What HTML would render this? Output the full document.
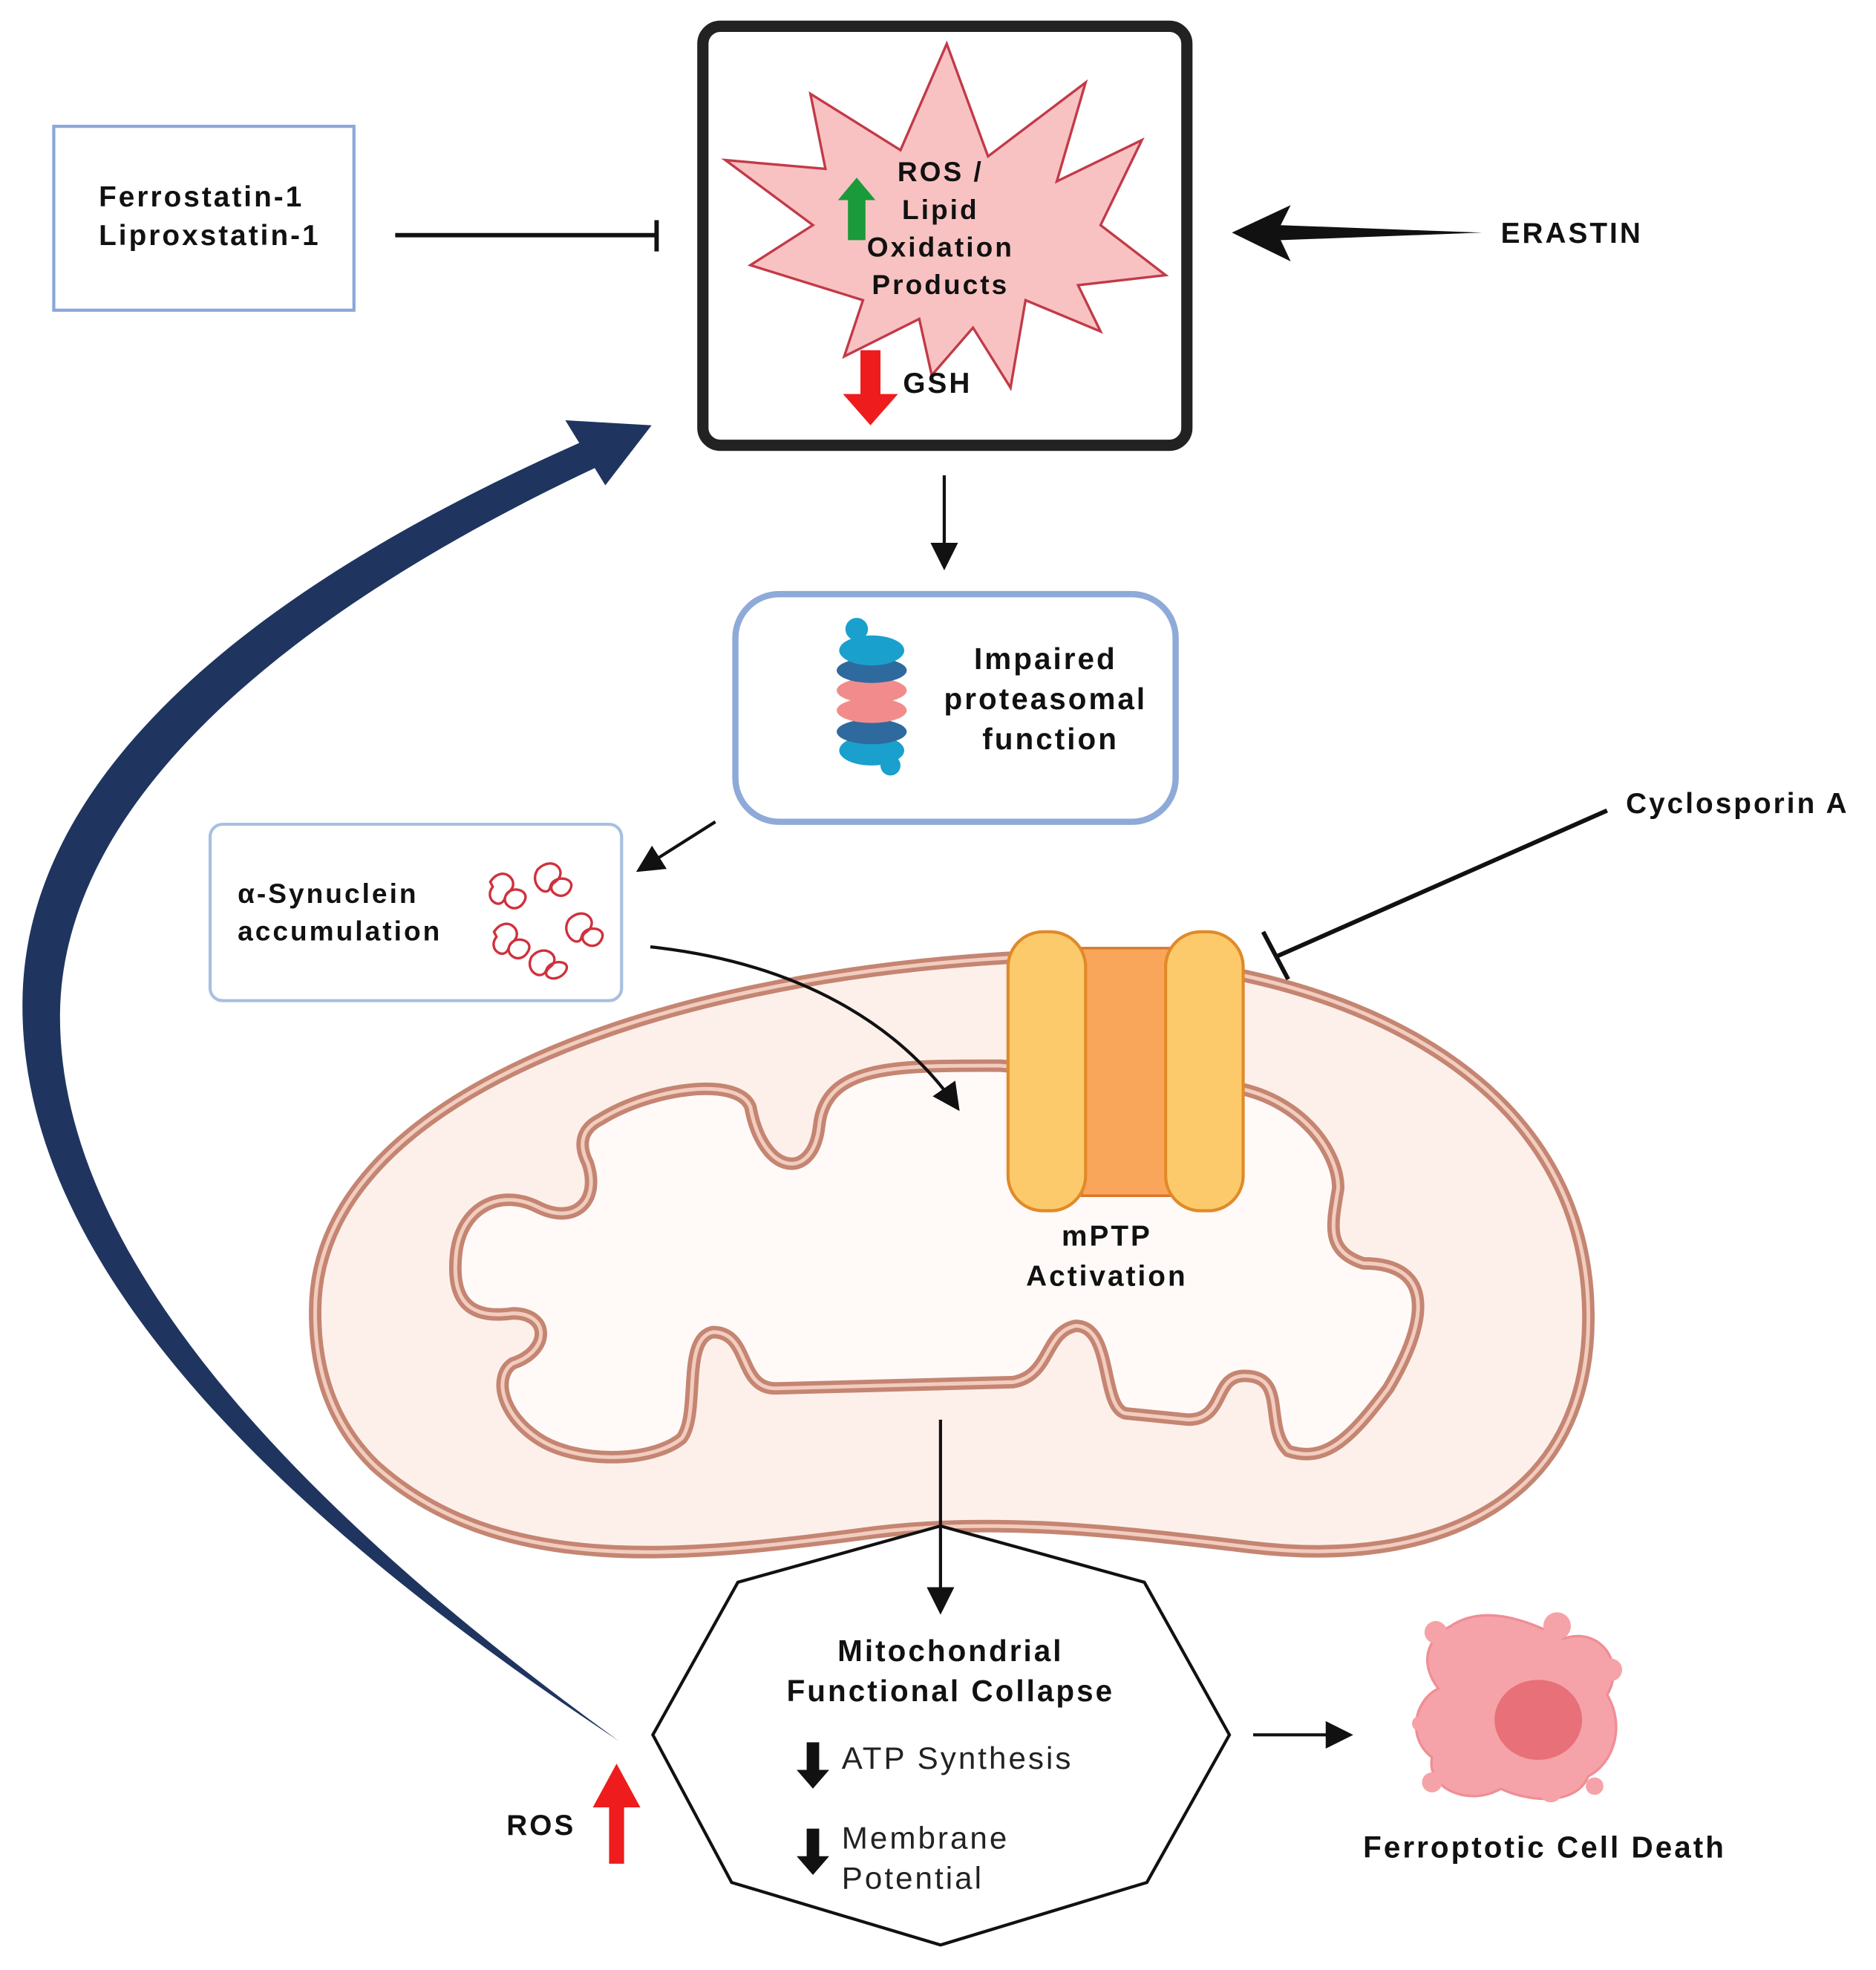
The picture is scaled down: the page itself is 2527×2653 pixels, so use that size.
<!DOCTYPE html>
<html><head><meta charset="utf-8"><style>
html,body{margin:0;padding:0;background:#fff;}
svg{display:block;}
text{font-family:"Liberation Sans",Arial,sans-serif;letter-spacing:1.8px;}
</style></head><body>
<svg width="2527" height="2653" viewBox="0 0 1500 1575" preserveAspectRatio="none" xmlns="http://www.w3.org/2000/svg">
<defs>
<marker id="ah2" markerWidth="22" markerHeight="22" refX="18" refY="11" orient="auto" markerUnits="userSpaceOnUse" viewBox="0 0 22 22"><path d="M0,0 L22,11 L0,22 Z" fill="#111"/></marker>
</defs>

<path d="M495 1392 C220 1210 15 1010 18 800 C20 620 200 470 468 352 L476 374 C230 490 50 640 48 810 C46 1000 230 1200 495 1392 Z" fill="#1f3560"/>
<polygon points="521,340 452,336 484,388" fill="#1f3560"/>

<rect x="43" y="101" width="240" height="147" fill="#fff" stroke="#8aa8d8" stroke-width="2.5"/>
<text x="79" y="165" font-size="23" font-weight="bold" fill="#111">Ferrostatin-1</text>
<text x="79" y="196" font-size="23" font-weight="bold" fill="#111">Liproxstatin-1</text>
<line x1="316" y1="188" x2="525" y2="188" stroke="#111" stroke-width="3.5"/>
<line x1="525" y1="176" x2="525" y2="201" stroke="#111" stroke-width="3.5"/>

<rect x="562" y="21" width="387" height="335" rx="14" fill="#fff" stroke="#222" stroke-width="9"/>
<polygon points="757,35 790,125 868,66 845,145 913,112 880,180 932,220 862,228 880,265 820,240 808,310 778,262 745,300 735,255 675,285 690,240 600,212 650,180 580,128 660,135 648,75 720,120" fill="#f8c2c2" stroke="#c23a48" stroke-width="2"/>
<text x="752" y="145" font-size="22" font-weight="bold" text-anchor="middle" fill="#111">ROS /</text>
<text x="752" y="175" font-size="22" font-weight="bold" text-anchor="middle" fill="#111">Lipid</text>
<text x="752" y="205" font-size="22" font-weight="bold" text-anchor="middle" fill="#111">Oxidation</text>
<text x="752" y="235" font-size="22" font-weight="bold" text-anchor="middle" fill="#111">Products</text>
<polygon points="685,142 700,160 692,160 692,192 678,192 678,160 670,160" fill="#1a9a3a"/>
<polygon points="688,280 704,280 704,315 718,315 696,340 674,315 688,315" fill="#ee1c1c"/>
<text x="722" y="314" font-size="23" font-weight="bold" fill="#111">GSH</text>

<polygon points="985,186 1032,164 1024,180 1185,186 1024,192 1032,209" fill="#111"/>
<text x="1200" y="194" font-size="23" font-weight="bold" fill="#111">ERASTIN</text>

<line x1="755" y1="380" x2="755" y2="452" stroke="#111" stroke-width="2.5" marker-end="url(#ah2)"/>

<rect x="588" y="475" width="352" height="182" rx="35" fill="#fff" stroke="#8eaad8" stroke-width="5"/>
<g>
<ellipse cx="697" cy="600" rx="26" ry="12" fill="#1aa0cc"/>
<ellipse cx="697" cy="585" rx="28" ry="10" fill="#2f6a9e"/>
<ellipse cx="697" cy="568" rx="28" ry="10" fill="#f28c8c"/>
<ellipse cx="697" cy="552" rx="28" ry="10" fill="#f28c8c"/>
<ellipse cx="697" cy="536" rx="28" ry="10" fill="#2f6a9e"/>
<ellipse cx="697" cy="520" rx="26" ry="12" fill="#1aa0cc"/>
<circle cx="685" cy="503" r="9" fill="#1aa0cc"/>
<circle cx="712" cy="612" r="8" fill="#1aa0cc"/>
</g>
<text x="836" y="535" font-size="24" font-weight="bold" text-anchor="middle" fill="#111">Impaired</text>
<text x="836" y="567" font-size="24" font-weight="bold" text-anchor="middle" fill="#111">proteasomal</text>
<text x="840" y="599" font-size="24" font-weight="bold" text-anchor="middle" fill="#111">function</text>

<line x1="572" y1="657" x2="512" y2="695" stroke="#111" stroke-width="2.5" marker-end="url(#ah2)"/>

<rect x="168" y="659" width="329" height="141" rx="10" fill="#fff" stroke="#a8c0e0" stroke-width="2.5"/>
<text x="190" y="722" font-size="22" font-weight="bold" fill="#111">α-Synuclein</text>
<text x="190" y="752" font-size="22" font-weight="bold" fill="#111">accumulation</text>
<g fill="none" stroke="#d0303c" stroke-width="2">
<path d="M392 705 c10 -15 25 0 15 8 c-10 8 5 20 12 8 c6 -10 -12 -14 -15 -4 c-3 12 -18 2 -10 -8 z"/>
<path d="M430 695 c12 -12 25 2 14 10 c-10 6 6 18 12 6 c5 -10 -14 -12 -16 -2 c-2 10 -18 -2 -10 -14 z"/>
<path d="M395 745 c10 -15 25 0 15 8 c-10 8 5 20 12 8 c6 -10 -12 -14 -15 -4 c-3 12 -18 2 -10 -8 z"/>
<path d="M455 735 c12 -12 25 2 14 10 c-10 6 6 18 12 6 c5 -10 -14 -12 -16 -2 c-2 10 -18 -2 -10 -14 z"/>
<path d="M425 765 c10 -12 25 0 15 8 c-10 8 5 14 12 4 c6 -10 -12 -10 -15 -2 c-3 10 -18 2 -12 -10 z"/>
</g>

<line x1="1285" y1="648" x2="1020" y2="765" stroke="#111" stroke-width="3.5"/>
<line x1="1010" y1="745" x2="1030" y2="783" stroke="#111" stroke-width="3.5"/>
<text x="1300" y="650" font-size="23" font-weight="bold" fill="#111">Cyclosporin A</text>

<path d="M252 1050 C250 880 520 780 820 765 C1050 758 1268 850 1270 1050 C1272 1200 1150 1255 1000 1237 C900 1225 800 1213 700 1225 C550 1245 400 1262 300 1172 C262 1135 252 1090 252 1050 Z" fill="#fdf0ea" stroke="#c48572" stroke-width="10"/>
<path d="M252 1050 C250 880 520 780 820 765 C1050 758 1268 850 1270 1050 C1272 1200 1150 1255 1000 1237 C900 1225 800 1213 700 1225 C550 1245 400 1262 300 1172 C262 1135 252 1090 252 1050 Z" fill="none" stroke="#f2cdbf" stroke-width="3"/>
<path d="M480 895 C520 870 590 860 600 885 C610 940 650 945 655 900 C660 850 720 852 800 852 L990 870 C1040 880 1070 920 1070 950 C1065 980 1060 1000 1090 1010 C1150 1010 1140 1060 1110 1110 C1080 1150 1060 1170 1030 1160 C1010 1140 1030 1100 995 1100 C970 1100 980 1135 950 1135 L900 1130 C880 1125 890 1060 860 1060 C835 1065 840 1100 810 1105 L620 1110 C590 1110 600 1065 570 1065 C545 1070 560 1130 545 1150 C520 1170 460 1170 430 1150 C400 1130 395 1100 410 1090 C440 1080 440 1050 410 1050 C375 1055 360 1040 365 1000 C370 965 400 950 430 965 C460 980 480 960 470 930 C460 910 470 900 480 895 Z" fill="#fffaf8" stroke="#c48572" stroke-width="10"/>
<path d="M480 895 C520 870 590 860 600 885 C610 940 650 945 655 900 C660 850 720 852 800 852 L990 870 C1040 880 1070 920 1070 950 C1065 980 1060 1000 1090 1010 C1150 1010 1140 1060 1110 1110 C1080 1150 1060 1170 1030 1160 C1010 1140 1030 1100 995 1100 C970 1100 980 1135 950 1135 L900 1130 C880 1125 890 1060 860 1060 C835 1065 840 1100 810 1105 L620 1110 C590 1110 600 1065 570 1065 C545 1070 560 1130 545 1150 C520 1170 460 1170 430 1150 C400 1130 395 1100 410 1090 C440 1080 440 1050 410 1050 C375 1055 360 1040 365 1000 C370 965 400 950 430 965 C460 980 480 960 470 930 C460 910 470 900 480 895 Z" fill="none" stroke="#f2cdbf" stroke-width="3"/>

<rect x="865" y="758" width="72" height="198" fill="#f9a65a" stroke="#d9762a" stroke-width="2"/>
<rect x="806" y="745" width="62" height="223" rx="28" fill="#fdca6b" stroke="#e08a2a" stroke-width="2.5"/>
<rect x="932" y="745" width="62" height="223" rx="28" fill="#fdca6b" stroke="#e08a2a" stroke-width="2.5"/>
<text x="885" y="996" font-size="23" font-weight="bold" text-anchor="middle" fill="#111">mPTP</text>
<text x="885" y="1028" font-size="23" font-weight="bold" text-anchor="middle" fill="#111">Activation</text>

<path d="M520 757 C640 770 720 820 765 885" fill="none" stroke="#111" stroke-width="2.5" marker-end="url(#ah2)"/>

<polygon points="752,1220 915,1265 983,1387 917,1505 752,1555 585,1505 522,1387 590,1265" fill="#fff" stroke="#111" stroke-width="2.5"/>
<line x1="752" y1="1135" x2="752" y2="1287" stroke="#111" stroke-width="2.5" marker-end="url(#ah2)"/>
<text x="760" y="1328" font-size="24" font-weight="bold" text-anchor="middle" fill="#111">Mitochondrial</text>
<text x="760" y="1360" font-size="24" font-weight="bold" text-anchor="middle" fill="#111">Functional Collapse</text>
<polygon points="645,1393 655,1393 655,1415 663,1415 650,1430 637,1415 645,1415" fill="#111"/>
<text x="673" y="1414" font-size="25" fill="#222">ATP Synthesis</text>
<polygon points="645,1462 655,1462 655,1484 663,1484 650,1499 637,1484 645,1484" fill="#111"/>
<text x="673" y="1478" font-size="25" fill="#222">Membrane</text>
<text x="673" y="1510" font-size="25" fill="#222">Potential</text>

<line x1="1002" y1="1387" x2="1078" y2="1387" stroke="#111" stroke-width="2.5" marker-end="url(#ah2)"/>

<path d="M1160 1300 C1190 1280 1230 1300 1250 1310 C1280 1300 1300 1330 1285 1355 C1300 1380 1290 1410 1270 1420 C1260 1445 1220 1440 1200 1430 C1175 1445 1140 1430 1145 1405 C1125 1390 1130 1360 1150 1350 C1135 1330 1140 1310 1160 1300 Z" fill="#f5a3a8" stroke="#ef8e95" stroke-width="2"/>
<ellipse cx="1230" cy="1375" rx="35" ry="32" fill="#e87078"/>
<circle cx="1148" cy="1305" r="9" fill="#f5a3a8"/>
<circle cx="1245" cy="1300" r="11" fill="#f5a3a8"/>
<circle cx="1288" cy="1335" r="9" fill="#f5a3a8"/>
<circle cx="1135" cy="1378" r="6" fill="#f5a3a8"/>
<circle cx="1240" cy="1432" r="9" fill="#f5a3a8"/>
<circle cx="1275" cy="1428" r="7" fill="#f5a3a8"/>
<circle cx="1145" cy="1425" r="8" fill="#f5a3a8"/>
<text x="1235" y="1485" font-size="24" font-weight="bold" text-anchor="middle" fill="#111">Ferroptotic Cell Death</text>

<polygon points="493,1410 512,1445 499,1445 499,1490 487,1490 487,1445 474,1445" fill="#ee1c1c"/>
<text x="405" y="1467" font-size="23" font-weight="bold" fill="#111">ROS</text>
</svg>
</body></html>
